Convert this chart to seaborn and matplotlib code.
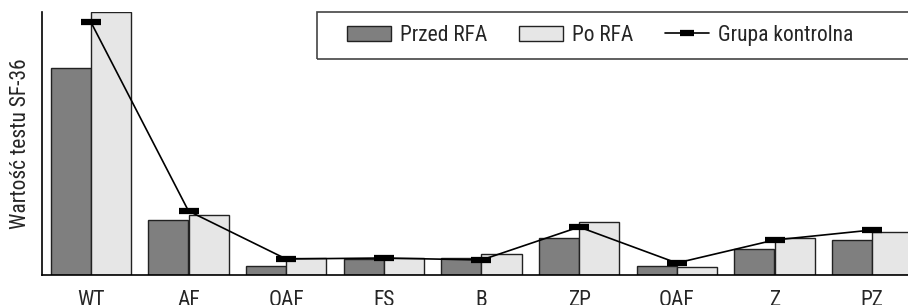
import matplotlib
matplotlib.use("Agg")
import matplotlib.pyplot as plt
import seaborn as sns
import pandas as pd
import numpy as np
from matplotlib.patches import Rectangle

categories = ["WT", "AF", "OAF", "FS", "B", "ZP", "OAF", "Z", "PZ"]
przed_rfa = [207, 55, 9, 16, 17, 37, 9, 26, 35]
po_rfa = [263, 60, 17, 17, 21, 53, 8, 37, 43]
grupa_kontrolna = [253, 64, 16, 17, 15, 48, 12, 35, 45]
series_names = ["Przed RFA", "Po RFA"]

sns.set_theme(style="white")
plt.rcParams['font.family'] = ['Roboto Condensed', 'DejaVu Sans']
FS = 15.5

idx = list(range(len(categories)))
df = pd.DataFrame({
    "pos": idx * 2,
    "value": przed_rfa + po_rfa,
    "series": [series_names[0]] * len(idx) + [series_names[1]] * len(idx),
})

fig = plt.figure(figsize=(9.08, 3.05), dpi=100)
W, H = 908, 305
ax = fig.add_axes([42 / W, (H - 275) / H, 879 / W, (275 - 12) / H])

sns.barplot(data=df, x="pos", y="value", hue="series", hue_order=series_names,
            palette=["#7f7f7f", "#e6e6e6"], edgecolor="#222222", linewidth=1.0,
            width=0.82, saturation=1, ax=ax, errorbar=None)
sns.lineplot(x=idx, y=grupa_kontrolna, color="black", linewidth=1.2,
             marker="_", markersize=15, markeredgewidth=4.5, markeredgecolor="black",
             label="Grupa kontrolna", ax=ax)

ax.set_xlim(-0.5, len(categories) - 0.5)
ax.set_ylim(0, 263)
ax.set_yticks([])
ax.set_xticks(idx)
ax.set_xticklabels(categories, fontsize=FS)
ax.tick_params(axis="x", which="major", length=0, pad=11)
ax.set_xticks(np.arange(-0.5, len(categories), 1.0), minor=True)
ax.tick_params(axis="x", which="minor", direction="inout", length=9, width=1.0, color="black")
ax.set_xlabel("")
ax.set_ylabel("Wartość testu SF-36", fontsize=FS, labelpad=8)
for s in ["top", "right"]:
    ax.spines[s].set_visible(False)
for s in ["left", "bottom"]:
    ax.spines[s].set_color("black")
    ax.spines[s].set_linewidth(1.2)

handles, labels = ax.get_legend_handles_labels()
ax.legend(handles, labels, loc="center left", bbox_to_anchor=(336 / W, 1 - 35.5 / H),
          bbox_transform=fig.transFigure, ncol=3, frameon=False, fontsize=FS,
          borderpad=0, handlelength=2.05, handleheight=0.7, handletextpad=0.4,
          columnspacing=1.5, numpoints=1, markerscale=0.7)
fig.patches.append(Rectangle((317 / W, 1 - 59 / H), (W + 10 - 317) / W, 47 / H,
                             transform=fig.transFigure, fill=False,
                             edgecolor="#444444", linewidth=1.2, zorder=5))

fig.savefig("out.png", dpi=100)
